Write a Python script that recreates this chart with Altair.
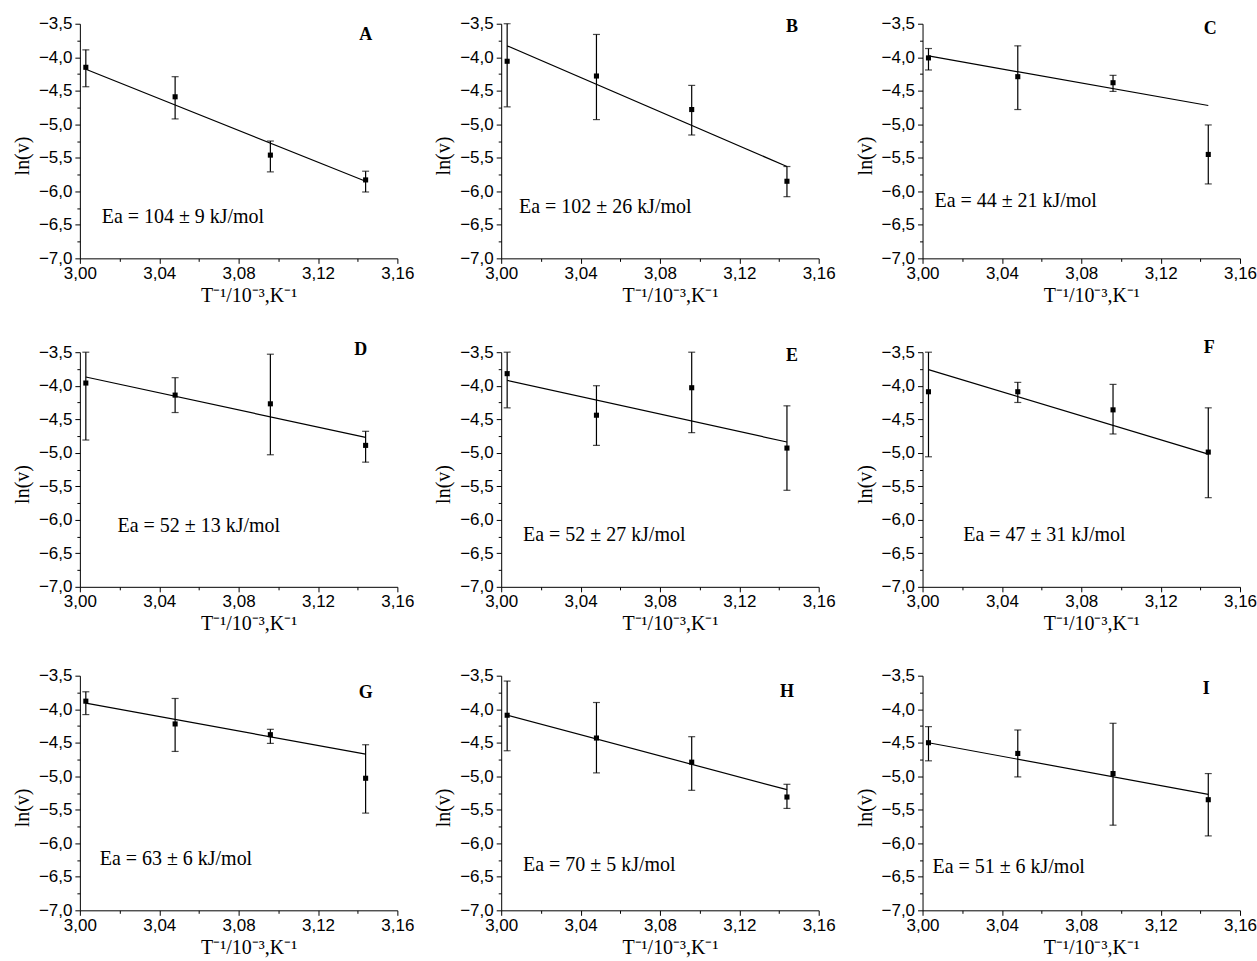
import altair as alt
import pandas as pd

# ---------------- data ----------------
PANELS = ["A", "B", "C", "D", "E", "F", "G", "H", "I"]
X = [3.003, 3.048, 3.096, 3.144]  # T^-1 / 10^-3 K^-1

Y = {
    "A": [-4.15, -4.59, -5.46, -5.83],
    "B": [-4.06, -4.28, -4.78, -5.85],
    "C": [-4.01, -4.29, -4.38, -5.45],
    "D": [-3.96, -4.14, -4.27, -4.89],
    "E": [-3.82, -4.44, -4.03, -4.93],
    "F": [-4.09, -4.09, -4.36, -4.99],
    "G": [-3.88, -4.22, -4.38, -5.03],
    "H": [-4.09, -4.43, -4.79, -5.31],
    "I": [-4.50, -4.66, -4.96, -5.35],
}
Y_HI = {
    "A": [-3.89, -4.29, -5.25, -5.70],
    "B": [-3.50, -3.66, -4.42, -5.63],
    "C": [-3.87, -3.83, -4.27, -5.01],
    "D": [-3.50, -3.88, -3.53, -4.68],
    "E": [-3.50, -4.00, -3.50, -4.30],
    "F": [-3.50, -3.95, -3.98, -4.33],
    "G": [-3.74, -3.84, -4.30, -4.53],
    "H": [-3.58, -3.90, -4.41, -5.12],
    "I": [-4.26, -4.31, -4.21, -4.96],
}
Y_LO = {
    "A": [-4.44, -4.92, -5.71, -6.01],
    "B": [-4.74, -4.93, -5.16, -6.08],
    "C": [-4.19, -4.78, -4.51, -5.89],
    "D": [-4.81, -4.40, -5.03, -5.14],
    "E": [-4.33, -4.89, -4.70, -5.56],
    "F": [-5.06, -4.25, -4.72, -5.67],
    "G": [-4.08, -4.63, -4.51, -5.55],
    "H": [-4.62, -4.95, -5.21, -5.48],
    "I": [-4.77, -5.01, -5.73, -5.89],
}
FIT_X = [3.003, 3.144]
FIT_Y = {
    "A": [-4.18, -5.85],
    "B": [-3.83, -5.63],
    "C": [-3.98, -4.72],
    "D": [-3.87, -4.77],
    "E": [-3.92, -4.84],
    "F": [-3.76, -5.02],
    "G": [-3.91, -4.67],
    "H": [-4.09, -5.20],
    "I": [-4.50, -5.27],
}
EA = {
    "A": "Ea = 104 ± 9 kJ/mol",
    "B": "Ea = 102 ± 26 kJ/mol",
    "C": "Ea = 44 ± 21 kJ/mol",
    "D": "Ea = 52 ± 13 kJ/mol",
    "E": "Ea = 52 ± 27 kJ/mol",
    "F": "Ea = 47 ± 31 kJ/mol",
    "G": "Ea = 63 ± 6 kJ/mol",
    "H": "Ea = 70 ± 5 kJ/mol",
    "I": "Ea = 51 ± 6 kJ/mol",
}
X_TICKS = [3.00, 3.02, 3.04, 3.06, 3.08, 3.10, 3.12, 3.14, 3.16]
Y_TICKS = [-3.5, -3.75, -4.0, -4.25, -4.5, -4.75, -5.0, -5.25, -5.5,
           -5.75, -6.0, -6.25, -6.5, -6.75, -7.0]
X_TITLE = "T⁻¹/10⁻³,K⁻¹"
Y_TITLE = "ln(v)"

# placement of the in-plot texts (data coordinates)
EA_POS = {
    "A": (3.011, -6.38), "B": (3.009, -6.24), "C": (3.006, -6.14),
    "D": (3.019, -6.09), "E": (3.011, -6.22), "F": (3.0205, -6.22),
    "G": (3.010, -6.23), "H": (3.011, -6.33), "I": (3.005, -6.35),
}
LETTER_POS = {
    "A": (3.144, -3.67), "B": (3.1466, -3.55), "C": (3.145, -3.58),
    "D": (3.1416, -3.47), "E": (3.1466, -3.56), "F": (3.1445, -3.44),
    "G": (3.144, -3.76), "H": (3.144, -3.75), "I": (3.143, -3.70),
}

# ---------------- axes ----------------
X_MAJOR = "abs(datum.value*25 - round(datum.value*25)) < 0.001"
Y_MAJOR = "abs(datum.value*2 - round(datum.value*2)) < 0.001"

x_axis = alt.Axis(
    values=X_TICKS,
    labelExpr=f"{X_MAJOR} ? replace(format(datum.value, '.2f'), '.', ',') : ''",
    tickSize={"condition": {"test": X_MAJOR, "value": 5}, "value": 3},
    labelFlush=False,
    labelPadding=2,
    titlePadding=4,
    titleX=169,
    grid=False,
)
y_axis = alt.Axis(
    values=Y_TICKS,
    labelExpr=f"{Y_MAJOR} ? replace(format(datum.value, '.1f'), '.', ',') : ''",
    tickSize={"condition": {"test": Y_MAJOR, "value": 5}, "value": 3},
    labelFlush=False,
    labelPadding=3,
    titlePadding=6,
    titleY=132,
    grid=False,
)
x_scale = alt.Scale(domain=[3.00, 3.16], nice=False, zero=False)
y_scale = alt.Scale(domain=[-7.0, -3.5], nice=False, zero=False)


def xe(field):
    return alt.X(field, type="quantitative", scale=x_scale, axis=x_axis, title=X_TITLE)


def ye(field):
    return alt.Y(field, type="quantitative", scale=y_scale, axis=y_axis, title=Y_TITLE)


def panel(p):
    pts = pd.DataFrame({"x": X, "y": Y[p], "hi": Y_HI[p], "lo": Y_LO[p]})
    fit = pd.DataFrame({"x": FIT_X, "y": FIT_Y[p]})
    ea = pd.DataFrame({"x": [EA_POS[p][0]], "y": [EA_POS[p][1]], "t": [EA[p]]})
    let = pd.DataFrame({"x": [LETTER_POS[p][0]], "y": [LETTER_POS[p][1]], "t": [p]})

    base = alt.Chart(pts)
    bars = base.mark_rule(color="black", strokeWidth=1.2).encode(
        x=xe("x"), y=ye("lo"), y2=alt.Y2("hi"))
    cap_hi = base.mark_tick(color="black", orient="horizontal", size=7, thickness=1.2).encode(
        x=xe("x"), y=ye("hi"))
    cap_lo = base.mark_tick(color="black", orient="horizontal", size=7, thickness=1.2).encode(
        x=xe("x"), y=ye("lo"))
    line = alt.Chart(fit).mark_line(color="black", strokeWidth=1.2).encode(
        x=xe("x"), y=ye("y"))
    sq = base.mark_square(color="black", filled=True, size=26, opacity=1).encode(
        x=xe("x"), y=ye("y"))
    ea_t = alt.Chart(ea).mark_text(
        align="left", baseline="middle", font="Liberation Serif", fontSize=20, color="black"
    ).encode(x=xe("x"), y=ye("y"), text="t:N")
    let_t = alt.Chart(let).mark_text(
        align="center", baseline="middle", font="Liberation Serif", fontSize=18,
        fontWeight="bold", color="black"
    ).encode(x=xe("x"), y=ye("y"), text="t:N")
    return alt.layer(line, bars, cap_hi, cap_lo, sq, ea_t, let_t).properties(
        width=318, height=235)


chart = alt.concat(*[panel(p) for p in PANELS], columns=3,
                   spacing={"row": 33, "column": 19}).properties(
    padding={"left": 12, "top": 14, "right": 0, "bottom": 0},
    background="white",
).configure_view(stroke=None).configure_axis(
    domainColor="black", domainWidth=1, tickColor="black", tickWidth=1,
    labelFont="Liberation Sans", labelFontSize=17, labelColor="black",
    titleFont="Liberation Serif", titleFontSize=20, titleFontWeight="normal",
    titleColor="black",
)

chart.save("out.html", embed_options={"renderer": "svg", "actions": False})
